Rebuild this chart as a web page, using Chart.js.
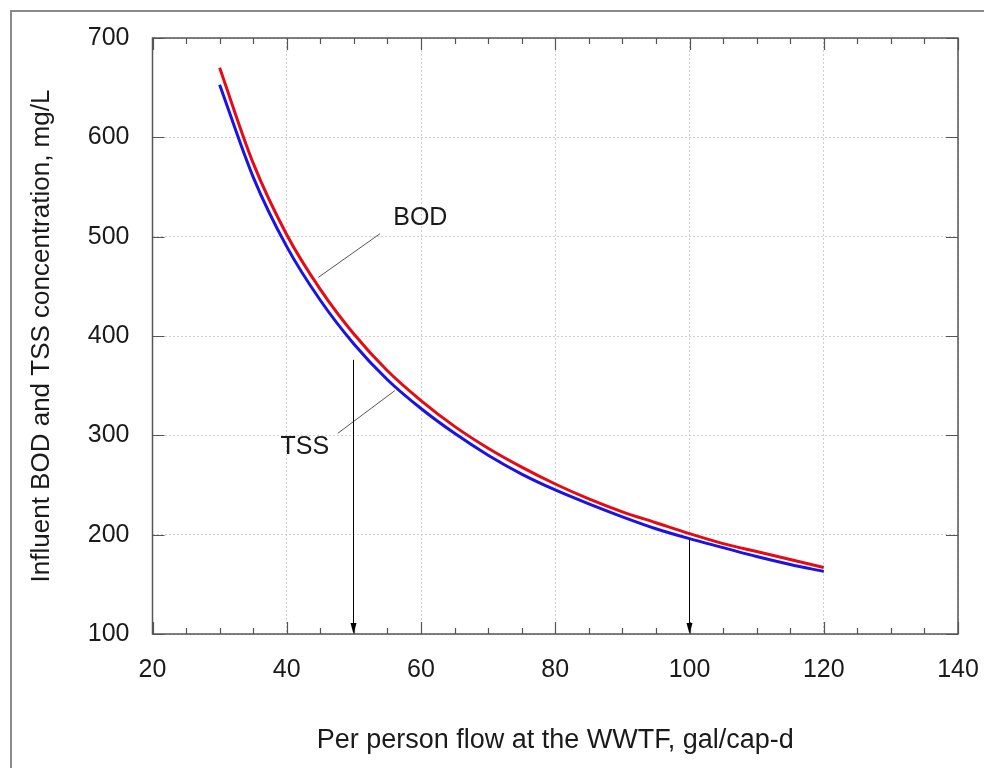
<!DOCTYPE html>
<html>
<head>
<meta charset="utf-8">
<script src="https://cdn.jsdelivr.net/npm/chart.js@4.4.1/dist/chart.umd.min.js"></script>
<style>
  html, body { margin: 0; padding: 0; background: #fff; }
  #wrap { width: 984px; height: 768px; position: relative; }
</style>
</head>
<body>
<div id="wrap"><canvas id="bodChart"></canvas></div>
<script>
// flow per person (gal/cap-d) and influent concentrations
const flow = [30, 35, 40, 45, 50, 55, 60, 65, 70, 75, 80, 85, 90, 95, 100, 105, 110, 115, 120];
const bod  = [670, 574, 502, 447, 402, 365, 335, 309, 287, 268, 251, 236, 223, 212, 201, 191, 183, 175, 167];
const tss  = [653, 560, 490, 436, 392, 356, 327, 302, 280, 261, 245, 231, 218, 206, 196, 187, 178, 170, 163];

const xTicks = [20, 40, 60, 80, 100, 120, 140];
const yTicks = [100, 200, 300, 400, 500, 600, 700];

// arrows pointing down to the x axis (flow, starting concentration)
const arrowFlows = [50, 100];
const arrowTops  = [376, 195];

const FONT = "'Liberation Sans', Arial, sans-serif";

function toPoints(xs, ys) {
    return xs.map((x, i) => ({ x: x, y: ys[i] }));
}

// frame, inward ticks, labels and arrows
const extras = {
    id: 'extras',
    afterDatasetsDraw(chart) {
        const ctx = chart.ctx;
        const a = chart.chartArea;
        const xs = chart.scales.x, ys = chart.scales.y;
        ctx.save();

        // outer page frame
        ctx.strokeStyle = '#8a8a8a';
        ctx.lineWidth = 2;
        ctx.beginPath();
        ctx.moveTo(11, 768); ctx.lineTo(11, 11); ctx.lineTo(984, 11);
        ctx.stroke();

        // plot box
        ctx.strokeStyle = '#555';
        ctx.lineWidth = 1.5;
        ctx.strokeRect(a.left, a.top, a.right - a.left, a.bottom - a.top);

        // x ticks (major every 20, minor every 5), bottom and top
        ctx.lineWidth = 1.2;
        ctx.beginPath();
        for (let v = xs.min; v <= xs.max; v += 5) {
            const px = Math.round(xs.getPixelForValue(v)) + 0.5;
            const len = (v % 20 === 0) ? 12 : 6;
            ctx.moveTo(px, a.bottom); ctx.lineTo(px, a.bottom - len);
            ctx.moveTo(px, a.top); ctx.lineTo(px, a.top + len);
        }
        // y ticks, left and right
        yTicks.forEach(v => {
            const py = Math.round(ys.getPixelForValue(v)) + 0.5;
            ctx.moveTo(a.left, py); ctx.lineTo(a.left + 12, py);
            ctx.moveTo(a.right, py); ctx.lineTo(a.right - 12, py);
        });
        ctx.stroke();

        // leader lines
        ctx.strokeStyle = '#555';
        ctx.lineWidth = 1;
        ctx.beginPath();
        ctx.moveTo(xs.getPixelForValue(53.9), ys.getPixelForValue(503));
        ctx.lineTo(xs.getPixelForValue(44.7), ys.getPixelForValue(459));
        ctx.moveTo(xs.getPixelForValue(47.6), ys.getPixelForValue(302));
        ctx.lineTo(xs.getPixelForValue(56.1), ys.getPixelForValue(345));
        ctx.stroke();

        // labels
        ctx.fillStyle = '#1a1a1a';
        ctx.font = '25px ' + FONT;
        ctx.textAlign = 'center';
        ctx.textBaseline = 'middle';
        ctx.fillText('BOD', xs.getPixelForValue(59.9), ys.getPixelForValue(519));
        ctx.fillText('TSS', xs.getPixelForValue(42.7), ys.getPixelForValue(288));

        // arrows
        ctx.strokeStyle = '#000';
        ctx.fillStyle = '#000';
        ctx.lineWidth = 1;
        arrowFlows.forEach((f, i) => {
            const px = Math.round(xs.getPixelForValue(f)) - 0.5;
            const top = ys.getPixelForValue(arrowTops[i]);
            ctx.beginPath();
            ctx.moveTo(px, top); ctx.lineTo(px, a.bottom - 8);
            ctx.stroke();
            ctx.beginPath();
            ctx.moveTo(px - 3, a.bottom - 11);
            ctx.lineTo(px + 3, a.bottom - 11);
            ctx.lineTo(px, a.bottom);
            ctx.closePath();
            ctx.fill();
        });
        ctx.restore();
    }
};

const config = {
    type: 'line',
    data: {
        datasets: [{
            label: 'BOD',
            data: toPoints(flow, bod),
            borderColor: 'rgb(230,10,20)',
            borderWidth: 3,
            pointRadius: 0,
            cubicInterpolationMode: 'monotone',
            fill: false
        }, {
            label: 'TSS',
            data: toPoints(flow, tss),
            borderColor: 'rgb(25,20,225)',
            borderWidth: 3,
            pointRadius: 0,
            cubicInterpolationMode: 'monotone',
            fill: false
        }]
    },
    options: {
        responsive: true,
        maintainAspectRatio: false,
        animation: false,
        layout: { padding: { left: 10, top: 38, right: 26, bottom: 10 } },
        plugins: {
            legend: { display: false },
            tooltip: { enabled: false }
        },
        scales: {
            x: {
                type: 'linear',
                min: 20,
                max: 140,
                afterBuildTicks: s => { s.ticks = xTicks.map(v => ({ value: v })); },
                afterFit: s => { s.height = 124; s.paddingLeft = 0; s.paddingRight = 0; },
                grid: { color: '#cfcfcf', lineWidth: 1, drawTicks: false },
                border: { display: false, dash: [2, 2] },
                ticks: { padding: 21, color: '#1a1a1a', font: { family: FONT, size: 25 } },
                title: {
                    display: true,
                    text: 'Per person flow at the WWTF, gal/cap-d',
                    color: '#1a1a1a',
                    font: { family: FONT, size: 27 },
                    padding: { top: 0, bottom: 1 }
                }
            },
            y: {
                type: 'linear',
                min: 100,
                max: 700,
                afterBuildTicks: s => { s.ticks = yTicks.map(v => ({ value: v })); },
                afterFit: s => { s.width = 142.5; s.paddingTop = 0; s.paddingBottom = 0; },
                grid: { color: '#cfcfcf', lineWidth: 1, drawTicks: false },
                border: { display: false, dash: [2, 2] },
                ticks: { padding: 23, color: '#1a1a1a', font: { family: FONT, size: 25 } },
                title: {
                    display: true,
                    text: 'Influent BOD and TSS concentration, mg/L',
                    color: '#1a1a1a',
                    font: { family: FONT, size: 26 },
                    padding: { top: 16, bottom: 0 }
                }
            }
        }
    },
    plugins: [extras]
};

const chart = new Chart(document.getElementById('bodChart'), config);
</script>
</body>
</html>
